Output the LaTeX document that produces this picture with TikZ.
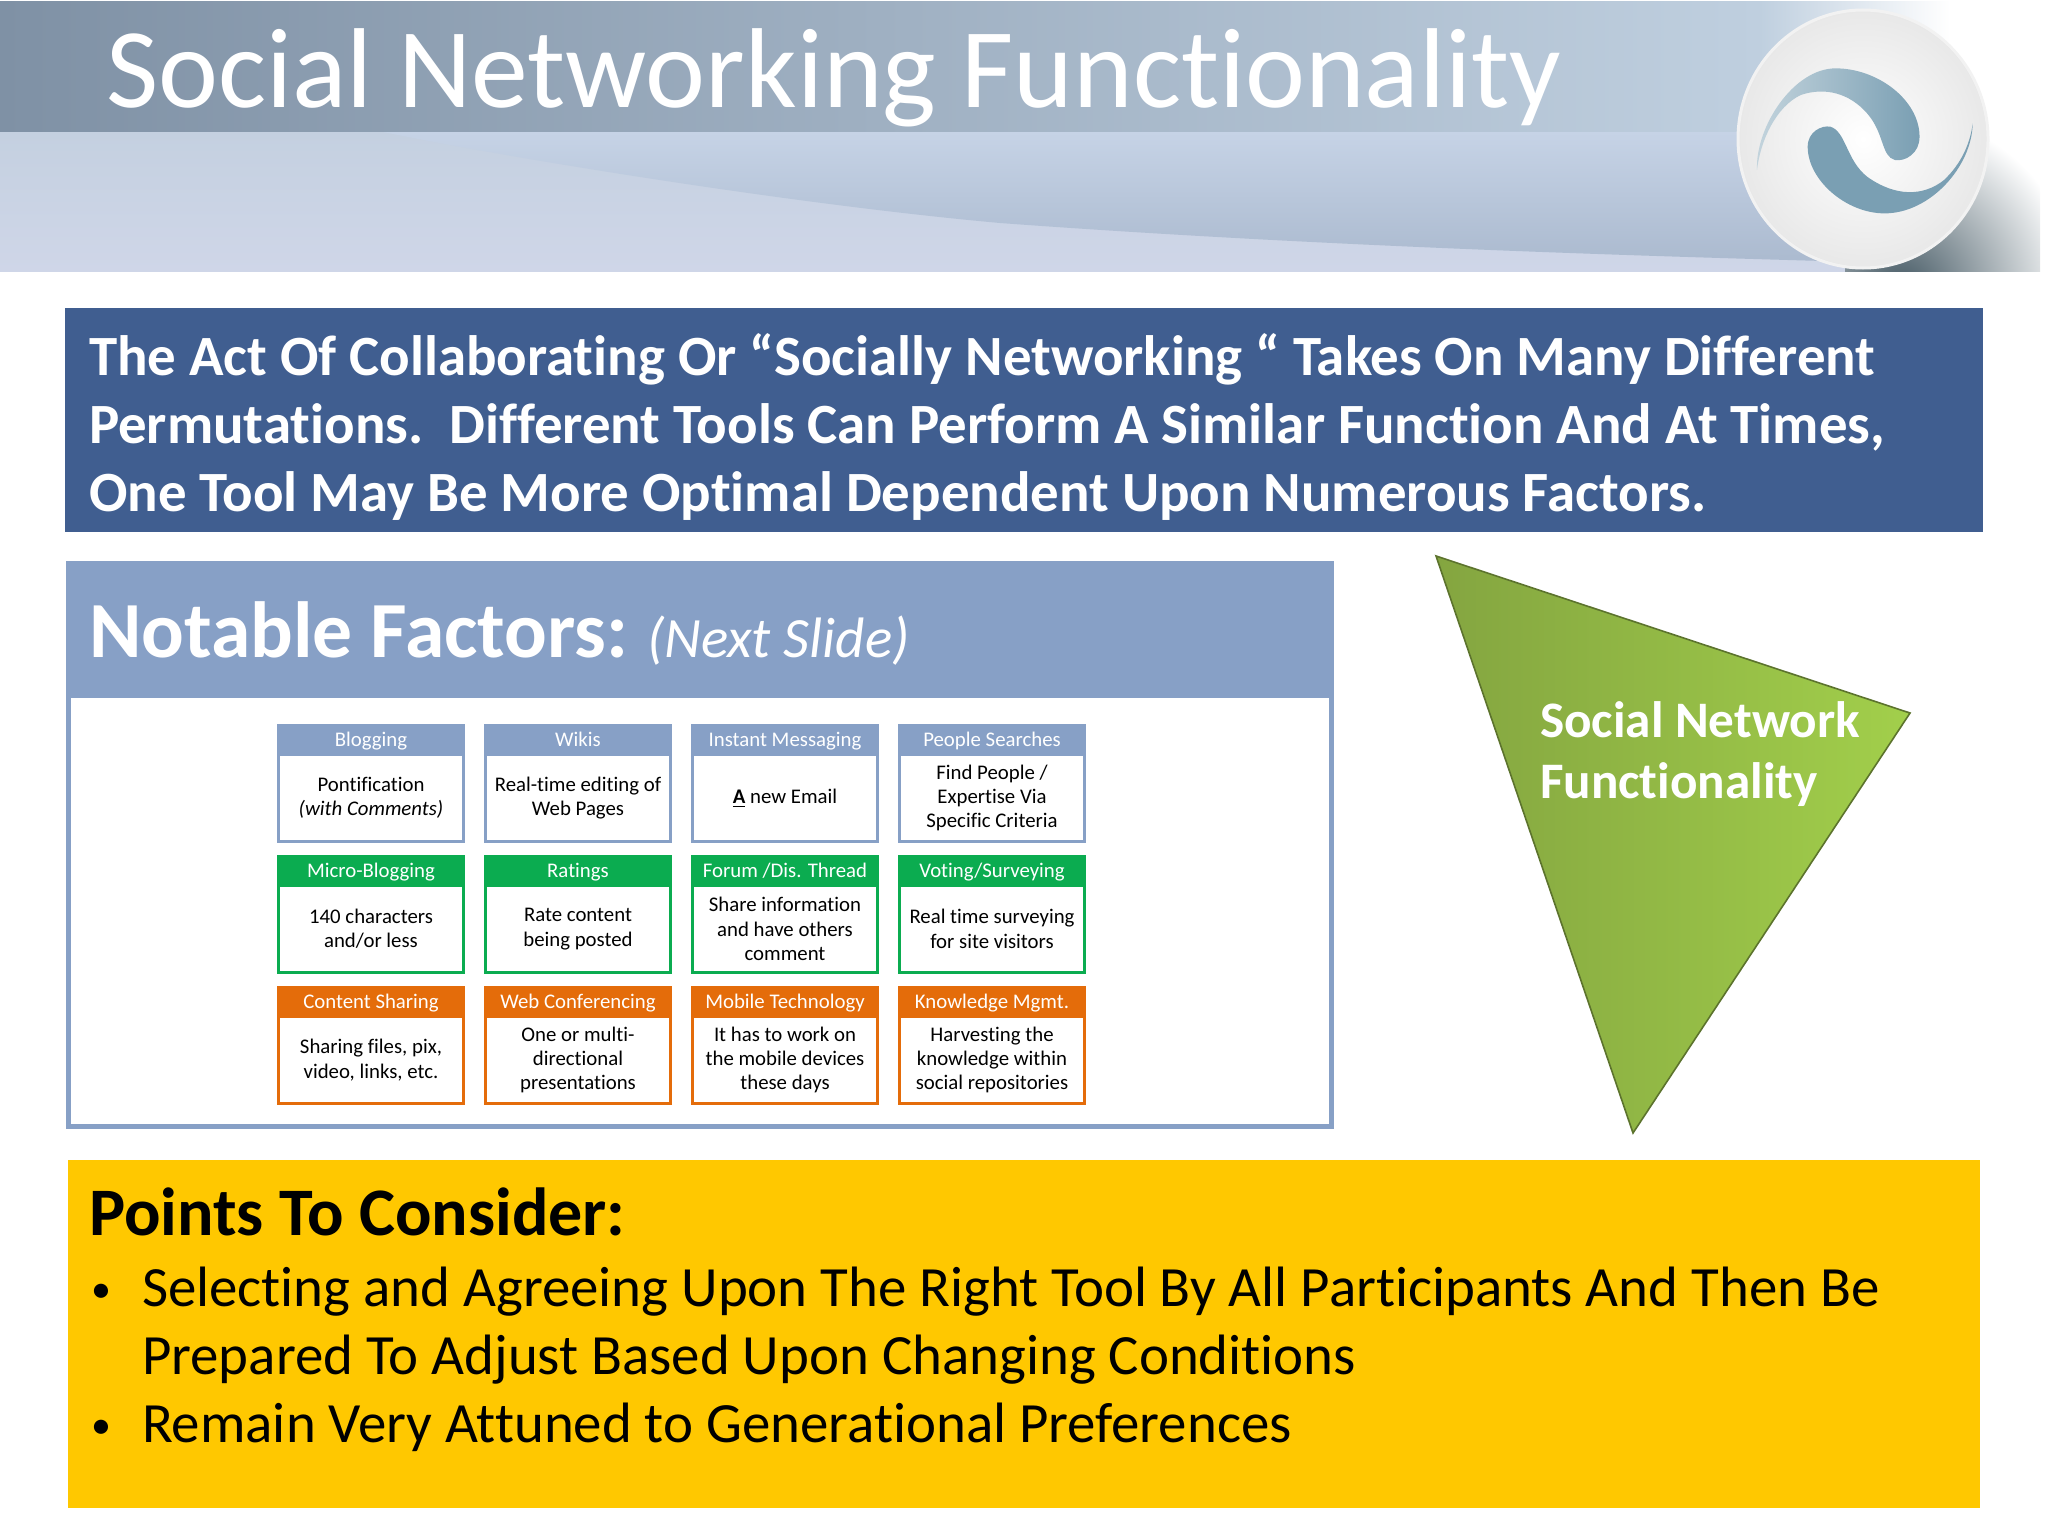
\documentclass[tikz,border=0pt]{standalone}
\usepackage{fontspec}
\setmainfont[Ligatures=CommonOff]{Carlito}
\usetikzlibrary{positioning}

\definecolor{deepblue}{HTML}{405E90}
\definecolor{softblue}{HTML}{87A0C6}
\definecolor{cardgreen}{HTML}{0BAC50}
\definecolor{cardorange}{HTML}{E46C0A}
\definecolor{sunyellow}{HTML}{FFC800}
\definecolor{swirlblue}{HTML}{7A9FB3}
\definecolor{bandleft}{HTML}{7F91A5}
\definecolor{bandright}{HTML}{BFCFDF}
\definecolor{lowtop}{HTML}{C4D0E0}
\definecolor{lowbottom}{HTML}{CFD6E8}
\definecolor{wedgetop}{HTML}{C6D3E6}
\definecolor{wedgelow}{HTML}{ABBACF}
\definecolor{leafdark}{HTML}{84A540}
\definecolor{leaflight}{HTML}{A2CF4B}

\tikzset{
  cardbody/.style={draw=#1, fill=white, line width=1.5pt, outer sep=0.75pt, inner sep=0pt,
    minimum width=92.5pt, minimum height=43.5pt, align=center, text=black,
    font=\fontsize{10.4}{12.2}\selectfont},
  cardhead/.style={draw=#1, fill=#1, line width=1.5pt, outer sep=0.75pt, inner sep=0pt,
    minimum width=92.5pt, minimum height=13pt, text height=8.5pt, text depth=0.7pt, text=white,
    font=\fontsize{10.4}{12}\selectfont},
  plaintext/.style={inner sep=0pt, outer sep=0pt, anchor=base west},
  bigline/.style={plaintext, font=\fontsize{28.45}{34}\selectfont},
  boldline/.style={plaintext, text=white, font=\bfseries\fontsize{28.45}{34}\selectfont},
  leafline/.style={plaintext, text=white, font=\bfseries\fontsize{25.6}{30}\selectfont},
  dotmark/.style={plaintext, font=\fontsize{20}{24}\selectfont}
}

\begin{document}
\begin{tikzpicture}[x=0.5pt, y=-0.5pt, node distance=20.5pt and 9.5pt]
  \useasboundingbox (0,0) rectangle (2048,1536);

  % header bands
  \shade[left color=bandright, right color=white] (1760,2) rectangle (1950,132);
  \shade[left color=bandleft, right color=bandright] (0,2) rectangle (1760,132);
  \shade[top color=lowtop, bottom color=lowbottom] (0,132) rectangle (1860,271);
  \shade[top color=wedgetop, bottom color=wedgelow]
    (383,132) .. controls (520,160) and (800,205) .. (1000,223)
    .. controls (1300,245) and (1600,255) .. (1860,262) -- (1860,132) -- cycle;
  \begin{scope}
    \clip (1845,132) rectangle (2040,271);
    \shade[inner color=black!45!swirlblue, outer color=white] (1900,290) circle (175);
  \end{scope}

  % logo ball
  \shade[inner color=white, outer color=white!91!black, draw=white!95!black, line width=1.5pt]
    (1863,139) ellipse (125 and 129);
  \begin{scope}[shift={(1500,0)}, x=0.1748pt, y=-0.1667pt]
    \shade[left color=swirlblue!45!white, right color=swirlblue]
      (735,510) .. controls (730,380) and (840,205) .. (960,205)
      .. controls (1080,205) and (1200,300) .. (1200,410)
      .. controls (1200,460) and (1160,485) .. (1130,480)
      .. controls (1090,470) and (1100,400) .. (1050,340)
      .. controls (1000,280) and (930,260) .. (860,285)
      .. controls (790,320) and (745,420) .. (735,510) -- cycle;
    \fill[swirlblue]
      (1352,370) .. controls (1350,500) and (1230,640) .. (1100,640)
      .. controls (990,640) and (880,540) .. (880,440)
      .. controls (880,395) and (920,375) .. (945,380)
      .. controls (990,395) and (990,480) .. (1050,530)
      .. controls (1130,590) and (1210,590) .. (1270,540)
      .. controls (1320,490) and (1345,430) .. (1352,370) -- cycle;
  \end{scope}

  \node[plaintext, text=white, font=\fontsize{56.8}{60}\selectfont] (title) at (106,107) {Social Networking Functionality};

  % intro banner
  \fill[deepblue] (65,308) rectangle (1983,532);
  \node[boldline] (introa) at (89,375) {The Act Of Collaborating Or “Socially Networking “ Takes On Many Different};
  \node[boldline] (introb) at (89,443) {Permutations.\ \ Different Tools Can Perform A Similar Function And At Times,};
  \node[boldline] (introc) at (89,511) {One Tool May Be More Optimal Dependent Upon Numerous Factors.};

  % factors panel
  \fill[softblue] (66,561) rectangle (1334,698);
  \draw[softblue, line width=2.5pt] (68.5,600) rectangle (1331.5,1126.5);
  \node[plaintext, text=white, font=\bfseries\fontsize{39.8}{44}\selectfont] (notable) at (89,657) {Notable Factors:};
  \node[plaintext, text=white, font=\itshape\fontsize{28.5}{34}\selectfont] (nextslide) at (647,657) {(Next Slide)};

  \node[cardbody=softblue] (blog) at (371,798) {Pontification\\\textit{(with Comments)}};
  \node[cardbody=softblue, right=of blog] (wiki) {Real-time editing of\\Web Pages};
  \node[cardbody=softblue, right=of wiki] (chat) {\underline{\textbf{A}} new Email};
  \node[cardbody=softblue, right=of chat] (people) {Find People /\\Expertise Via\\Specific Criteria};
  \node[cardbody=cardgreen, below=of blog] (micro) {140 characters\\and/or less};
  \node[cardbody=cardgreen, right=of micro] (rate) {Rate content\\being posted};
  \node[cardbody=cardgreen, right=of rate] (forum) {Share information\\and have others\\comment};
  \node[cardbody=cardgreen, right=of forum] (vote) {Real time surveying\\for site visitors};
  \node[cardbody=cardorange, below=of micro] (share) {Sharing files, pix,\\video, links, etc.};
  \node[cardbody=cardorange, right=of share] (conf) {One or multi-\\directional\\presentations};
  \node[cardbody=cardorange, right=of conf] (mobile) {It has to work on\\the mobile devices\\these days};
  \node[cardbody=cardorange, right=of mobile] (know) {Harvesting the\\knowledge within\\social repositories};

  \foreach \nm/\lb/\cl in {blog/Blogging/softblue, wiki/Wikis/softblue, chat/Instant Messaging/softblue,
      people/People Searches/softblue, micro/Micro-Blogging/cardgreen, rate/Ratings/cardgreen,
      forum/{Forum /Dis. Thread}/cardgreen, vote/{Voting/Surveying}/cardgreen,
      share/Content Sharing/cardorange, conf/Web Conferencing/cardorange,
      mobile/Mobile Technology/cardorange, know/Knowledge Mgmt./cardorange}
    \node[cardhead=\cl, above=0pt of \nm] (\nm head) {\lb};

  % green triangle
  \shade[left color=leafdark, right color=leaflight, draw=black!30!leafdark, line width=0.8pt]
    (1436,556) -- (1910,713) -- (1633,1133) -- cycle;
  \node[leafline] (trione) at (1540,737.5) {Social Network};
  \node[leafline] (tritwo) at (1540,798.5) {Functionality};

  % points to consider
  \fill[sunyellow] (68,1160) rectangle (1980,1508);
  \node[plaintext, font=\bfseries\fontsize{34}{38}\selectfont] (points) at (89,1235) {Points To Consider:};
  \node[dotmark] (bulleta) at (91,1302) {•};
  \node[bigline] (linea) at (142,1306.5) {Selecting and Agreeing Upon The Right Tool By All Participants And Then Be};
  \node[bigline] (lineb) at (142,1374.5) {Prepared To Adjust Based Upon Changing Conditions};
  \node[dotmark] (bulletb) at (91,1438) {•};
  \node[bigline] (linec) at (142,1442.5) {Remain Very Attuned to Generational Preferences};
\end{tikzpicture}
\end{document}
